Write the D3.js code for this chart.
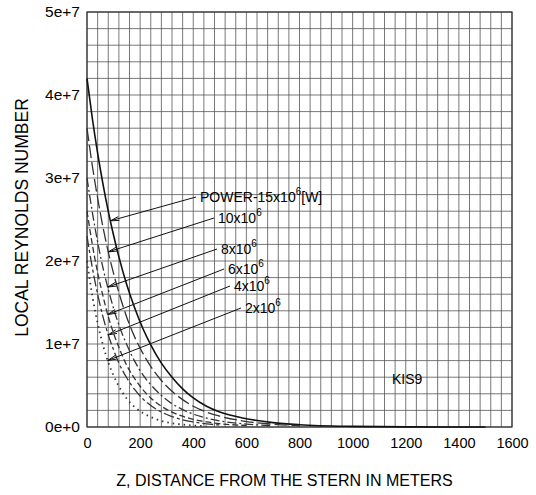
<!DOCTYPE html>
<html>
<head>
<meta charset="utf-8">
<script src="https://cdn.jsdelivr.net/npm/d3@7"></script>
<style>
  body { margin: 0; background: #fff; }
  text { font-family: "Liberation Sans", Arial, sans-serif; fill: #000; }
</style>
</head>
<body>
<div id="chart"></div>
<script>
// Distance from stern (m) where the curves were read
const zValues = [0, 20, 40, 60, 80, 100, 120, 150, 180, 210, 240, 280, 320, 360, 400, 450, 500, 600, 700, 800, 1000, 1200, 1500];

// Local Reynolds number, in millions, per engine power
const re15 = [42.0, 37.2, 33.0, 29.3, 26.0, 23.1, 20.5, 17.1, 14.3, 11.9, 9.9, 7.7, 6.0, 4.6, 3.5, 2.5, 1.8, 1.0, 0.53, 0.28, 0.08, 0.02, 0.0];
const re10 = [36.0, 31.5, 27.6, 24.1, 21.1, 18.5, 16.2, 13.2, 10.8, 8.9, 7.3, 5.6, 4.3, 3.3, 2.5, 1.8, 1.3, 0.66, 0.34, 0.17];
const re8  = [30.0, 25.9, 22.3, 19.2, 16.6, 14.3, 12.3, 9.9, 7.9, 6.3, 5.1, 3.8, 2.8, 2.1, 1.55, 1.07, 0.74, 0.35, 0.17];
const re6  = [26.0, 22.0, 18.6, 15.8, 13.3, 11.3, 9.6, 7.4, 5.8, 4.5, 3.5, 2.5, 1.8, 1.3, 0.93, 0.61, 0.40, 0.18];
const re4  = [23.0, 19.2, 16.0, 13.3, 11.1, 9.3, 7.7, 5.9, 4.5, 3.4, 2.6, 1.8, 1.26, 0.87, 0.61, 0.38, 0.24];
const re2  = [20.0, 15.8, 12.5, 9.9, 7.8, 6.2, 4.9, 3.4, 2.4, 1.7, 1.2, 0.74, 0.46, 0.29, 0.18, 0.10];

const powerLabels = ["15", "10", "8", "6", "4", "2"];

// Axis ticks
const xTicks = [0, 200, 400, 600, 800, 1000, 1200, 1400, 1600];
const yTicks = [0, 1e7, 2e7, 3e7, 4e7, 5e7];
const yTickLabels = ["0e+0", "1e+7", "2e+7", "3e+7", "4e+7", "5e+7"];

const series = [re15, re10, re8, re6, re4, re2].map((vals, i) => ({
  power: powerLabels[i],
  points: vals.map((v, j) => ({ z: zValues[j], re: v * 1e6 }))
}));

// Look of each curve and where its label sits
const dashes = [null, "13,4", "9,3,2,3", "6,3", "11,3,3,3", "1.5,4"];
const labelPos = [
  { x: 200, y: 202, prefix: "POWER-", suffix: "[W]" },
  { x: 218, y: 223 },
  { x: 221, y: 254 },
  { x: 228, y: 274 },
  { x: 234, y: 291 },
  { x: 245, y: 313 }
];
const arrowZ = [88, 80, 78, 78, 80, 78];

const width = 536, height = 495;
const margin = { top: 12, right: 24, bottom: 68, left: 87 };

const svg = d3.select("#chart").append("svg")
  .attr("width", width)
  .attr("height", height);

const x = d3.scaleLinear()
  .domain([0, 1600])
  .range([margin.left, width - margin.right]);

const y = d3.scaleLinear()
  .domain([0, 5e7])
  .range([height - margin.bottom, margin.top]);

// grid, every 40 m and every 2e6
const grid = svg.append("g");
grid.selectAll(".vg")
  .data(d3.range(0, 1601, 40))
  .join("line")
  .attr("x1", d => x(d)).attr("x2", d => x(d))
  .attr("y1", y(0)).attr("y2", y(5e7))
  .attr("stroke", "#555")
  .attr("stroke-width", 0.8);

grid.selectAll(".hg")
  .data(d3.range(0, 5e7 + 1, 2e6))
  .join("line")
  .attr("x1", x(0)).attr("x2", x(1600))
  .attr("y1", d => y(d)).attr("y2", d => y(d))
  .attr("stroke", "#555")
  .attr("stroke-width", 0.8);

svg.append("rect")
  .attr("x", x(0)).attr("y", y(5e7))
  .attr("width", x(1600) - x(0))
  .attr("height", y(0) - y(5e7))
  .attr("fill", "none")
  .attr("stroke", "#333")
  .attr("stroke-width", 1.2);

// axes, drawn without domain lines or tick marks
const xAxis = svg.append("g")
  .attr("transform", `translate(0,${y(0)})`)
  .call(d3.axisBottom(x).tickValues(xTicks).tickSize(0).tickPadding(11).tickFormat(d3.format("d")));
xAxis.select(".domain").remove();
xAxis.selectAll("text")
  .style("font-size", "14.5px")
  .style("font-family", "'Liberation Sans', Arial, sans-serif")
  .attr("fill", "#000");

const yAxis = svg.append("g")
  .attr("transform", `translate(${x(0)},0)`)
  .call(d3.axisLeft(y).tickValues(yTicks).tickSize(0).tickPadding(7)
    .tickFormat((d, i) => yTickLabels[i]));
yAxis.select(".domain").remove();
yAxis.selectAll("text")
  .style("font-size", "15.5px")
  .style("font-family", "'Liberation Sans', Arial, sans-serif")
  .attr("fill", "#000");

// curves
const line = d3.line()
  .x(d => x(d.z))
  .y(d => y(d.re))
  .curve(d3.curveMonotoneX);

svg.append("g").selectAll("path")
  .data(series)
  .join("path")
  .attr("d", d => line(d.points))
  .attr("fill", "none")
  .attr("stroke", (d, i) => i == 0 ? "#111" : "#333")
  .attr("stroke-width", (d, i) => i == 0 ? 1.6 : (i == 5 ? 1.8 : 1.3))
  .attr("stroke-dasharray", (d, i) => dashes[i]);

// leader lines from labels to curves
const lerp = (pts, z) => {
  const k = d3.bisector(p => p.z).right(pts, z);
  const a = pts[k - 1], b = pts[k];
  return a.re + (b.re - a.re) * (z - a.z) / (b.z - a.z);
};

const labels = svg.append("g");
series.forEach((s, i) => {
  const p = labelPos[i];
  const tx = x(arrowZ[i]), ty = y(lerp(s.points, arrowZ[i]));
  const sx = p.x - 4, sy = p.y - 5;
  labels.append("line")
    .attr("x1", sx).attr("y1", sy)
    .attr("x2", tx).attr("y2", ty)
    .attr("stroke", "#111")
    .attr("stroke-width", 1);
  // small arrow head
  const ang = Math.atan2(sy - ty, sx - tx);
  const hl = 9, hw = 0.22;
  labels.append("path")
    .attr("d", `M${tx},${ty} L${tx + hl * Math.cos(ang - hw)},${ty + hl * Math.sin(ang - hw)} M${tx},${ty} L${tx + hl * Math.cos(ang + hw)},${ty + hl * Math.sin(ang + hw)}`)
    .attr("stroke", "#111")
    .attr("stroke-width", 1)
    .attr("fill", "none");

  const t = labels.append("text")
    .attr("x", p.x).attr("y", p.y)
    .style("font-size", "14px");
  t.append("tspan").text((p.prefix || "") + s.power + "x10");
  t.append("tspan").attr("dy", -7).style("font-size", "10px").text("6");
  if (p.suffix) t.append("tspan").attr("dy", 7).text(p.suffix);
});

svg.append("text")
  .attr("x", 392).attr("y", 384)
  .style("font-size", "14px")
  .text("KIS9");

// axis titles
svg.append("text")
  .attr("x", (x(0) + x(1600)) / 2 - 15)
  .attr("y", 486)
  .attr("text-anchor", "middle")
  .style("font-size", "16px")
  .text("Z, DISTANCE FROM THE STERN IN METERS");

svg.append("text")
  .attr("transform", `translate(28,${(y(0) + y(5e7)) / 2 - 2}) rotate(-90)`)
  .attr("text-anchor", "middle")
  .style("font-size", "17.5px")
  .text("LOCAL REYNOLDS NUMBER");
</script>
</body>
</html>
